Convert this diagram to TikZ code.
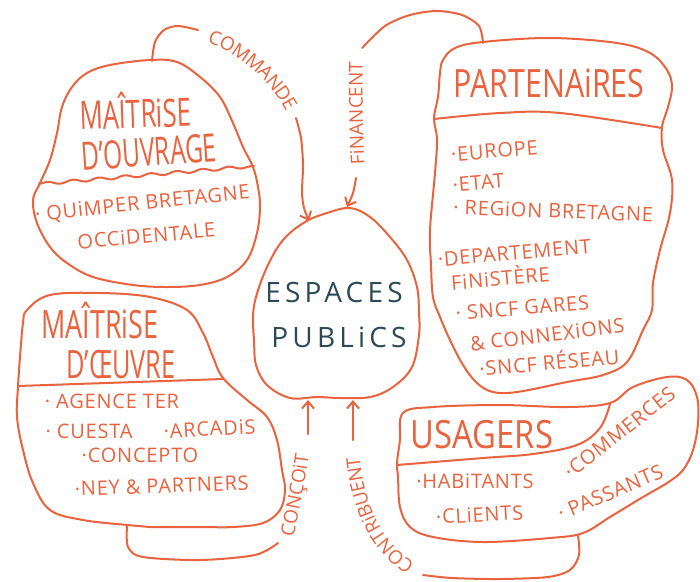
\documentclass[tikz,border=0pt]{standalone}
\usepackage{fontspec}
\setmainfont{Open Sans}
\newfontfamily\itemfont[LetterSpace=4]{Open Sans}
\newfontfamily\centrefont[LetterSpace=15]{Open Sans}
\usetikzlibrary{arrows.meta,decorations.text,decorations.pathmorphing}
\definecolor{trait}{RGB}{233,99,62}
\definecolor{encre}{RGB}{44,74,84}
\newcommand{\titre}[2]{\scalebox{#1}[1]{#2}}
\newcommand{\etiq}{\fontsize{19}{19}\selectfont}

\begin{document}
\begin{tikzpicture}[x=1pt,y=-1pt,
	lien/.style={draw=trait, line width=2pt, line cap=round, line join=round},
	fleche/.style={lien, -{Straight Barb[length=7pt,width=12pt]}},
	titre/.style={font=\fontsize{39}{39}\selectfont, text=trait, anchor=base, inner sep=0pt},
	item/.style={font=\itemfont\fontsize{20}{20}\selectfont, text=trait, anchor=base, inner sep=0pt},
	centre/.style={font=\centrefont\fontsize{28}{28}\selectfont, text=encre, anchor=base, inner sep=0pt},
	etiquette/.style={decorate, decoration={text along path, text align=center, text color=trait, raise=-6pt, text={|\etiq|#1}}}]
	\fill[white] (0,0) rectangle (700,581);
	\useasboundingbox (0,0) rectangle (700,581);

	% maitrise d'ouvrage
	\draw[lien] plot[smooth cycle, tension=0.6] coordinates {(150,60) (177,62) (200,77) (220,97) (233,123) (243,147) (253,167) (258,187) (260,207) (257,233) (247,260) (227,277) (200,285) (167,287) (133,285) (93,277) (67,263) (50,247) (37,223) (33,200) (40,183) (50,160) (57,133) (62,107) (72,87) (87,73) (110,65)};
	\draw[lien, decorate, decoration={snake, amplitude=1.5pt, segment length=26pt}] (39,184) -- (254,166);
	\node[titre, rotate=2] (mo1) at (136,128) {\titre{0.66}{MAÎTRiSE}};
	\node[titre, rotate=4] (mo2) at (150,166) {\titre{0.63}{D'OUVRAGE}};
	\node[item, rotate=6] (mo3) at (143,210) {· QUiMPER BRETAGNE};
	\node[item, rotate=5] (mo4) at (147,243) {OCCiDENTALE};

	% partenaires
	\draw[lien] plot[smooth cycle, tension=0.6] coordinates {(443,60) (455,48) (483,42) (550,38) (617,43) (650,53) (667,70) (672,87) (668,107) (662,127) (663,150) (672,180) (670,213) (660,250) (653,283) (652,310) (643,330) (627,362) (603,375) (567,382) (517,392) (493,392) (477,383) (463,365) (450,340) (440,317) (433,297) (431,265) (430,230) (435,173) (437,140) (434,118) (438,97) (440,73)};
	\draw[lien] plot[smooth, tension=0.6] coordinates {(434,119) (500,113) (560,113) (662,128)};
	\node[titre] (pa0) at (549,97) {\titre{0.78}{PARTENAiRES}};
	\node[item, rotate=5] (pa1) at (495,158) {·EUROPE};
	\node[item, rotate=5] (pa2) at (479,190) {·ETAT};
	\node[item, rotate=-2] (pa3) at (553,218) {· REGiON BRETAGNE};
	\node[item, rotate=5] (pa4) at (515,260) {·DEPARTEMENT};
	\node[item, rotate=5] (pa5) at (501,286) {FiNiSTÈRE};
	\node[item, rotate=5] (pa6) at (523,315) {· SNCF GARES};
	\node[item, rotate=7] (pa7) at (548,342) {\& CONNEXiONS};
	\node[item, rotate=5] (pa8) at (550,370) {·SNCF RÉSEAU};

	% usagers
	\draw[lien] plot[smooth cycle, tension=0.6] coordinates {(403,413) (433,407) (500,405) (567,407) (610,403) (633,387) (667,377) (687,380) (697,397) (698,423) (693,450) (683,470) (667,483) (643,497) (610,517) (583,533) (550,538) (483,542) (433,537) (410,527) (400,507) (398,477) (397,463) (400,440)};
	\draw[lien] plot[smooth, tension=0.6] coordinates {(610,404) (600,428) (577,445) (533,454) (483,458) (397,465)};
	\node[titre] (us0) at (482,448) {\titre{0.84}{USAGERS}};
	\node[item] (us1) at (475,488) {·HABiTANTS};
	\node[item, rotate=38] (us2) at (624,438) {·COMMERCES};
	\node[item, rotate=3] (us3) at (480,522) {·CLiENTS};
	\node[item, rotate=23] (us4) at (613,499) {· PASSANTS};

	% maitrise d'oeuvre
	\draw[lien] plot[smooth cycle, tension=0.6] coordinates {(27,310) (50,295) (100,293) (150,297) (187,310) (203,333) (213,357) (223,378) (247,400) (267,417) (277,440) (282,470) (285,490) (280,510) (263,523) (233,527) (200,527) (150,527) (127,525) (83,520) (50,510) (33,483) (23,450) (17,417) (18,387) (20,357) (23,323)};
	\draw[lien] (18,386) -- (223,379);
	\node[titre] (moe1) at (100,338) {\titre{0.69}{MAÎTRiSE}};
	\node[titre] (moe2) at (121,378) {\titre{0.65}{D'ŒUVRE}};
	\node[item] (moe3) at (112,408) {· AGENCE TER};
	\node[item] (moe4) at (89,438) {· CUESTA};
	\node[item, rotate=3] (moe5) at (210,436) {·ARCADiS};
	\node[item] (moe6) at (140,462) {·CONCEPTO};
	\node[item, rotate=2] (moe7) at (162,493) {·NEY \& PARTNERS};

	% espaces publics
	\draw[lien] plot[smooth cycle, tension=0.6] coordinates {(327,213) (350,208) (370,217) (390,237) (407,260) (417,287) (419,313) (419,335) (412,367) (393,387) (370,397) (340,398) (317,397) (290,398) (267,385) (256,365) (254,340) (253,317) (256,297) (267,267) (283,240) (305,222)};
	\node[centre] (esp1) at (334,302) {ESPACES};
	\node[centre] (esp2) at (339,347) {PUBLiCS};

	\coordinate (mo-haut) at (152,61);
	\coordinate (pa-haut) at (483,43);
	\coordinate (moe-bas) at (127,526);
	\coordinate (us-bas) at (578,535);
	\coordinate (esp-nw) at (309,221);
	\coordinate (esp-n) at (347,207);
	\coordinate (esp-sw) at (308,400);
	\coordinate (esp-s) at (353,400);

	% commande
	\draw[lien] plot[smooth] coordinates {(mo-haut) (155,42) (164,30) (178,26) (198,30)};
	\path[etiquette=COMMANDE] (204,36) .. controls (240,45) and (276,76) .. (294,114);
	\draw[fleche] plot[smooth] coordinates {(296,118) (301,138) (303,165) (302,192) (304,208) (esp-nw)};

	% financent
	\draw[lien] plot[smooth] coordinates {(pa-haut) (479,26) (462,15) (437,11) (410,15) (385,26) (362,48)};
	\path[etiquette=FiNANCENT] (359,174) .. controls (357,130) and (356,90) .. (357,52);
	\draw[fleche] plot[smooth] coordinates {(356,178) (353,193) (esp-n)};

	% conçoit
	\draw[lien] plot[smooth] coordinates {(moe-bas) (128,547) (143,557) (200,560) (255,555) (278,543)};
	\path[etiquette=CONÇOiT] (286,545) .. controls (292,515) and (300,480) .. (304,445);
	\draw[fleche] (308,434) -- (esp-sw);

	% contribuent
	\draw[lien] plot[smooth] coordinates {(us-bas) (579,555) (570,570) (548,577) (500,579) (452,578) (423,575)};
	\path[etiquette=CONTRiBUENT] (418,572) .. controls (388,556) and (358,522) .. (353,450);
	\draw[fleche] (353,440) -- (esp-s);
\end{tikzpicture}
\end{document}
